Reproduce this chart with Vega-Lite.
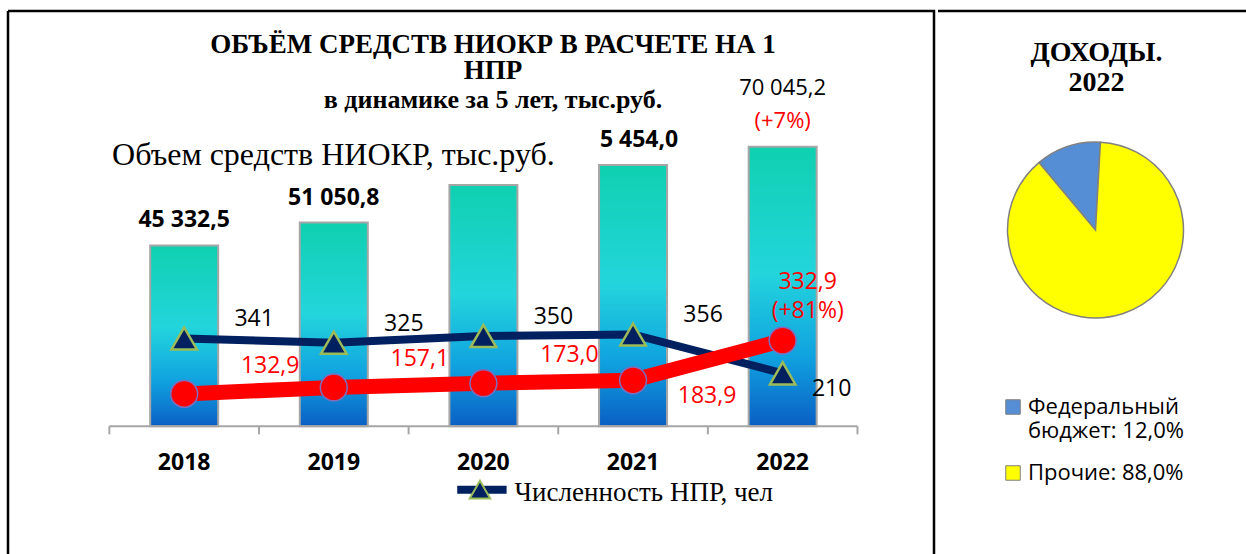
{
  "$schema": "https://vega.github.io/schema/vega-lite/v6.json",
  "background": "white",
  "padding": {"left": 6, "top": 9, "right": 0, "bottom": 0},
  "config": {"view": {"stroke": null}, "concat": {"spacing": 0}},
  "hconcat": [
    {
      "width": 926,
      "height": 545,
      "view": {"stroke": "black", "strokeWidth": 2.5, "strokeDash": [1471, 926, 545, 0]},
      "title": {
        "text": ["ОБЪЁМ СРЕДСТВ НИОКР В РАСЧЕТЕ НА 1", "НПР"],
        "subtitle": "в динамике за 5 лет, тыс.руб.",
        "font": "Liberation Serif", "fontSize": 27, "fontWeight": "bold", "color": "black", "lineHeight": 26,
        "subtitleFont": "Liberation Serif", "subtitleFontSize": 26, "subtitleFontWeight": "bold", "subtitleColor": "black", "subtitlePadding": 2,
        "anchor": "middle", "dx": 22, "offset": -103
      },
      "data": {"values": [
        {"year": 2018, "fund": 45332.5, "fund_lbl": "45 332,5", "npr": 341, "per": 132.9, "per_lbl": "132,9"},
        {"year": 2019, "fund": 51050.8, "fund_lbl": "51 050,8", "npr": 325, "per": 157.1, "per_lbl": "157,1"},
        {"year": 2020, "fund": 60500.0, "fund_lbl": "", "npr": 350, "per": 173.0, "per_lbl": "173,0"},
        {"year": 2021, "fund": 65454.0, "fund_lbl": "5 454,0", "npr": 356, "per": 183.9, "per_lbl": "183,9"},
        {"year": 2022, "fund": 70045.2, "fund_lbl": "70 045,2", "fund_note": "(+7%)", "npr": 210, "per": 332.9, "per_lbl": "332,9", "per_note": "(+81%)"}
      ]},
      "encoding": {
        "x": {"field": "year", "type": "quantitative", "scale": {"domain": [2016.856, 2022.978], "nice": false, "zero": false}, "axis": null}
      },
      "layer": [
        {
          "mark": {"type": "bar", "size": 68, "stroke": "#a6a6a6", "strokeWidth": 2,
            "fill": {"gradient": "linear", "x1": 0, "y1": 0, "x2": 0, "y2": 1,
              "stops": [{"offset": 0, "color": "#0fd0b0"}, {"offset": 0.45, "color": "#23d5dc"}, {"offset": 0.75, "color": "#10a2e0"}, {"offset": 1, "color": "#0a5fc4"}]}},
          "encoding": {
            "y": {"field": "fund", "type": "quantitative", "scale": {"domain": [-32508, 104076], "nice": false, "zero": false}, "axis": null},
            "y2": {"datum": 0}
          }
        },
        {
          "data": {"values": [{"a": 2017.5, "b": 2022.5, "v": 0}]},
          "mark": {"type": "rule", "color": "#a6a6a6", "strokeWidth": 2},
          "encoding": {
            "x": {"field": "a", "type": "quantitative", "scale": {"domain": [2016.856, 2022.978], "nice": false, "zero": false}, "axis": null},
            "x2": {"field": "b"},
            "y": {"field": "v", "type": "quantitative", "scale": {"domain": [-32508, 104076], "nice": false, "zero": false}, "axis": null}
          }
        },
        {
          "data": {"values": [{"x": 2017.5, "v": 0, "w": -2016}, {"x": 2018.5, "v": 0, "w": -2016}, {"x": 2019.5, "v": 0, "w": -2016}, {"x": 2020.5, "v": 0, "w": -2016}, {"x": 2021.5, "v": 0, "w": -2016}, {"x": 2022.5, "v": 0, "w": -2016}]},
          "mark": {"type": "rule", "color": "#a6a6a6", "strokeWidth": 2},
          "encoding": {
            "x": {"field": "x", "type": "quantitative", "scale": {"domain": [2016.856, 2022.978], "nice": false, "zero": false}, "axis": null},
            "y": {"field": "v", "type": "quantitative", "scale": {"domain": [-32508, 104076], "nice": false, "zero": false}, "axis": null},
            "y2": {"field": "w"}
          }
        },
        {
          "mark": {"type": "text", "font": "Open Sans", "fontSize": 23, "fontWeight": "bold", "color": "black", "baseline": "middle", "dy": 37},
          "encoding": {
            "y": {"datum": 0, "type": "quantitative", "scale": {"domain": [-32508, 104076], "nice": false, "zero": false}, "axis": null},
            "text": {"field": "year", "type": "nominal"}
          }
        },
        {
          "transform": [{"filter": "datum.year <= 2019"}],
          "mark": {"type": "text", "font": "Open Sans", "fontSize": 23, "fontWeight": "bold", "color": "black", "baseline": "middle", "dy": -25},
          "encoding": {
            "y": {"field": "fund", "type": "quantitative", "scale": {"domain": [-32508, 104076], "nice": false, "zero": false}, "axis": null},
            "text": {"field": "fund_lbl", "type": "nominal"}
          }
        },
        {
          "transform": [{"filter": "datum.year == 2021"}],
          "mark": {"type": "text", "font": "Open Sans", "fontSize": 23, "fontWeight": "bold", "color": "black", "baseline": "middle", "dy": -25, "dx": 6},
          "encoding": {
            "y": {"field": "fund", "type": "quantitative", "scale": {"domain": [-32508, 104076], "nice": false, "zero": false}, "axis": null},
            "text": {"field": "fund_lbl", "type": "nominal"}
          }
        },
        {
          "transform": [{"filter": "datum.year == 2022"}],
          "mark": {"type": "text", "font": "Open Sans", "fontSize": 22, "color": "black", "baseline": "middle", "dy": -59},
          "encoding": {
            "y": {"field": "fund", "type": "quantitative", "scale": {"domain": [-32508, 104076], "nice": false, "zero": false}, "axis": null},
            "text": {"field": "fund_lbl", "type": "nominal"}
          }
        },
        {
          "transform": [{"filter": "datum.year == 2022"}],
          "mark": {"type": "text", "font": "Open Sans", "fontSize": 22, "color": "#ff0000", "baseline": "middle", "dy": -26},
          "encoding": {
            "y": {"field": "fund", "type": "quantitative", "scale": {"domain": [-32508, 104076], "nice": false, "zero": false}, "axis": null},
            "text": {"field": "fund_note", "type": "nominal"}
          }
        },
        {
          "data": {"values": [{"t": "Объем средств НИОКР, тыс.руб.", "a": 2017.518, "v": 68040}]},
          "mark": {"type": "text", "font": "Liberation Serif", "fontSize": 32, "color": "black", "align": "left", "baseline": "middle"},
          "encoding": {
            "x": {"field": "a", "type": "quantitative", "scale": {"domain": [2016.856, 2022.978], "nice": false, "zero": false}, "axis": null},
            "y": {"field": "v", "type": "quantitative", "scale": {"domain": [-32508, 104076], "nice": false, "zero": false}, "axis": null},
            "text": {"field": "t", "type": "nominal"}
          }
        },
        {
          "data": {"values": [{"a": 2019.825, "b": 2020.155, "v": -15876}]},
          "mark": {"type": "rule", "color": "#002060", "strokeWidth": 8},
          "encoding": {
            "x": {"field": "a", "type": "quantitative", "scale": {"domain": [2016.856, 2022.978], "nice": false, "zero": false}, "axis": null},
            "x2": {"field": "b"},
            "y": {"field": "v", "type": "quantitative", "scale": {"domain": [-32508, 104076], "nice": false, "zero": false}, "axis": null}
          }
        },
        {
          "data": {"values": [{"a": 2019.977, "v": -15876}]},
          "mark": {"type": "point", "shape": "triangle-up", "size": 420, "filled": true, "fill": "#002060", "stroke": "#9bbb59", "strokeWidth": 2, "opacity": 1, "dy": -5},
          "encoding": {
            "x": {"field": "a", "type": "quantitative", "scale": {"domain": [2016.856, 2022.978], "nice": false, "zero": false}, "axis": null},
            "y": {"field": "v", "type": "quantitative", "scale": {"domain": [-32508, 104076], "nice": false, "zero": false}, "axis": null}
          }
        },
        {
          "data": {"values": [{"t": "Численность НПР, чел", "a": 2020.208, "v": -15876}]},
          "mark": {"type": "text", "font": "Liberation Serif", "fontSize": 27, "color": "black", "align": "left", "baseline": "middle", "dy": 3},
          "encoding": {
            "x": {"field": "a", "type": "quantitative", "scale": {"domain": [2016.856, 2022.978], "nice": false, "zero": false}, "axis": null},
            "y": {"field": "v", "type": "quantitative", "scale": {"domain": [-32508, 104076], "nice": false, "zero": false}, "axis": null},
            "text": {"field": "t", "type": "nominal"}
          }
        },
        {
          "mark": {"type": "line", "color": "#002060", "strokeWidth": 8},
          "encoding": {"y": {"field": "npr", "type": "quantitative", "scale": {"domain": [-475.5, 1569.8], "nice": false, "zero": false}, "axis": null}}
        },
        {
          "mark": {"type": "point", "shape": "triangle-up", "size": 650, "filled": true, "fill": "#002060", "stroke": "#9bbb59", "strokeWidth": 2.5, "opacity": 1},
          "encoding": {"y": {"field": "npr", "type": "quantitative", "scale": {"domain": [-475.5, 1569.8], "nice": false, "zero": false}, "axis": null}}
        },
        {
          "mark": {"type": "line", "color": "#ff0000", "strokeWidth": 15},
          "encoding": {"y": {"field": "per", "type": "quantitative", "scale": {"domain": [-475.5, 1569.8], "nice": false, "zero": false}, "axis": null}}
        },
        {
          "mark": {"type": "point", "shape": "circle", "size": 720, "filled": true, "fill": "#ff0000", "stroke": "#7b6fc0", "strokeWidth": 1.5, "opacity": 1},
          "encoding": {"y": {"field": "per", "type": "quantitative", "scale": {"domain": [-475.5, 1569.8], "nice": false, "zero": false}, "axis": null}}
        },
        {
          "transform": [{"filter": "datum.year <= 2021"}],
          "mark": {"type": "text", "font": "Open Sans", "fontSize": 23, "color": "black", "baseline": "middle", "dx": 70, "dy": -19},
          "encoding": {"y": {"field": "npr", "type": "quantitative", "scale": {"domain": [-475.5, 1569.8], "nice": false, "zero": false}, "axis": null}, "text": {"field": "npr", "type": "nominal"}}
        },
        {
          "transform": [{"filter": "datum.year == 2022"}],
          "mark": {"type": "text", "font": "Open Sans", "fontSize": 23, "color": "black", "baseline": "middle", "dx": 49, "dy": 16},
          "encoding": {"y": {"field": "npr", "type": "quantitative", "scale": {"domain": [-475.5, 1569.8], "nice": false, "zero": false}, "axis": null}, "text": {"field": "npr", "type": "nominal"}}
        },
        {
          "transform": [{"filter": "datum.year <= 2020"}],
          "mark": {"type": "text", "font": "Open Sans", "fontSize": 23, "color": "#ff0000", "baseline": "middle", "dx": 86, "dy": -28},
          "encoding": {"y": {"field": "per", "type": "quantitative", "scale": {"domain": [-475.5, 1569.8], "nice": false, "zero": false}, "axis": null}, "text": {"field": "per_lbl", "type": "nominal"}}
        },
        {
          "transform": [{"filter": "datum.year == 2021"}],
          "mark": {"type": "text", "font": "Open Sans", "fontSize": 23, "color": "#ff0000", "baseline": "middle", "dx": 74, "dy": 16},
          "encoding": {"y": {"field": "per", "type": "quantitative", "scale": {"domain": [-475.5, 1569.8], "nice": false, "zero": false}, "axis": null}, "text": {"field": "per_lbl", "type": "nominal"}}
        },
        {
          "transform": [{"filter": "datum.year == 2022"}],
          "mark": {"type": "text", "font": "Open Sans", "fontSize": 23, "color": "#ff0000", "baseline": "middle", "dx": 25, "dy": -59},
          "encoding": {"y": {"field": "per", "type": "quantitative", "scale": {"domain": [-475.5, 1569.8], "nice": false, "zero": false}, "axis": null}, "text": {"field": "per_lbl", "type": "nominal"}}
        },
        {
          "transform": [{"filter": "datum.year == 2022"}],
          "mark": {"type": "text", "font": "Open Sans", "fontSize": 23, "color": "#ff0000", "baseline": "middle", "dx": 25, "dy": -30},
          "encoding": {"y": {"field": "per", "type": "quantitative", "scale": {"domain": [-475.5, 1569.8], "nice": false, "zero": false}, "axis": null}, "text": {"field": "per_note", "type": "nominal"}}
        }
      ],
      "resolve": {"scale": {"y": "independent"}}
    },
    {
      "width": 315,
      "height": 438,
      "view": {"stroke": "black", "strokeWidth": 2.5, "strokeDash": [315, 2000]},
      "title": {
        "text": ["ДОХОДЫ.", "2022"],
        "font": "Liberation Serif", "fontSize": 28, "fontWeight": "bold", "color": "black", "lineHeight": 30,
        "anchor": "middle", "dx": 1, "offset": -86
      },
      "data": {"values": [
        {"cat": "Федеральный бюджет: 12,0%", "share": 12.0},
        {"cat": "Прочие: 88,0%", "share": 88.0}
      ]},
      "mark": {"type": "arc", "outerRadius": 88, "stroke": "#808080", "strokeWidth": 1.5},
      "encoding": {
        "theta": {"field": "share", "type": "quantitative", "scale": {"range": [0.056, 6.339]}},
        "color": {
          "field": "cat", "type": "nominal",
          "scale": {"domain": ["Федеральный бюджет: 12,0%", "Прочие: 88,0%"], "range": ["#558ed5", "#ffff00"]},
          "legend": {
            "orient": "none", "legendX": 994, "legendY": 385, "title": null,
            "symbolType": "square", "symbolSize": 210, "symbolStrokeColor": "#7f7f7f", "symbolStrokeWidth": 1,
            "labelFont": "Open Sans", "labelFontSize": 22, "labelColor": "black", "labelLimit": 400,
            "labelOffset": 4, "rowPadding": 20,
            "labelExpr": "datum.label == 'Федеральный бюджет: 12,0%' ? ['Федеральный', 'бюджет: 12,0%'] : datum.label"
          }
        }
      }
    }
  ]
}
